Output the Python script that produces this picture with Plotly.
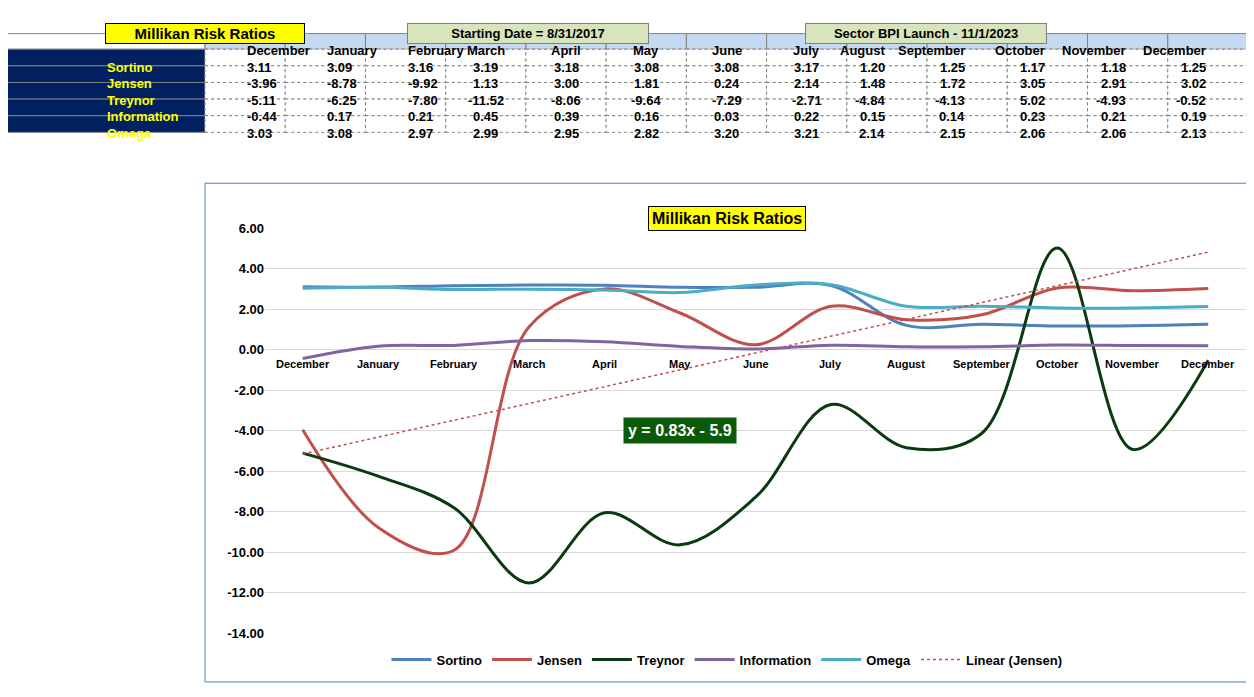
import plotly.graph_objects as go
import numpy as np

months = ["December","January","February","March","April","May","June","July","August","September","October","November","December"]
ratio_names = ["Sortino","Jensen","Treynor","Information","Omega"]
sortino = [3.11,3.09,3.16,3.19,3.18,3.08,3.08,3.17,1.20,1.25,1.17,1.18,1.25]
jensen = [-3.96,-8.78,-9.92,1.13,3.00,1.81,0.24,2.14,1.48,1.72,3.05,2.91,3.02]
treynor = [-5.11,-6.25,-7.80,-11.52,-8.06,-9.64,-7.29,-2.71,-4.84,-4.13,5.02,-4.93,-0.52]
information = [-0.44,0.17,0.21,0.45,0.39,0.16,0.03,0.22,0.15,0.14,0.23,0.21,0.19]
omega = [3.03,3.08,2.97,2.99,2.95,2.82,3.20,3.21,2.14,2.15,2.06,2.06,2.13]
yticks = [6,4,2,0,-2,-4,-6,-8,-10,-12,-14]
trend_label = "y = 0.83x - 5.9"

series = [sortino, jensen, treynor, information, omega]
colors = ["#4f81bd","#c0504d","#0a3a10","#8064a2","#4bacc6"]

W, H = 1254, 697
FW, FH = W - 16, H - 16
def px(x): return (x - 8) / FW
def py(y): return 1 - (y - 8) / FH

fig = go.Figure()

# ---- table drawn with shapes/annotations ----
col_edges = [5, 205] + [205 + (1248 - 205) * (i + 1) / 13 for i in range(13)]
row_edges = [27, 43, 60, 77, 94, 111, 128]
for r in range(6):
    for c in range(14):
        x0, x1 = col_edges[c], col_edges[c + 1]
        y0, y1 = row_edges[r], row_edges[r + 1]
        if r == 0:
            fill = "white" if c == 0 else "#c5d9f1"
            text = "" if c == 0 else f"<b>{months[c-1]}</b>"
            fc = "black"
        elif c == 0:
            fill, text, fc = "#002060", f"<b>{ratio_names[r-1]}</b>", "#ffff00"
        else:
            fill, text, fc = "white", f"<b>{series[r-1][c-1]:.2f}</b>", "black"
        fig.add_shape(type="rect", xref="paper", yref="paper", x0=px(x0), x1=px(x1),
                      y0=py(y1), y1=py(y0), fillcolor=fill,
                      line=dict(color="#808080", width=1, dash="solid" if (r == 0 or c == 0) else "dot"))
        if text:
            fig.add_annotation(xref="paper", yref="paper", x=px((x0 + x1) / 2), y=py((y0 + y1) / 2),
                               text=text, showarrow=False, font=dict(size=13, color=fc))

x = list(range(len(months)))
for name, s, c in zip(ratio_names, series, colors):
    fig.add_trace(go.Scatter(x=x, y=s, name=f"<b>{name}</b>", mode="lines",
                             line=dict(color=c, width=3, shape="spline", smoothing=1.0)))
k, b = np.polyfit(np.arange(1, 14), jensen, 1)
fig.add_trace(go.Scatter(x=x, y=[k*(i+1)+b for i in x], name="<b>Linear (Jensen)</b>", mode="lines",
                         line=dict(color="#c0504d", width=1.5, dash="dot")))

fig.update_layout(
    width=FW, height=FH, margin=dict(l=0, r=0, t=0, b=0),
    paper_bgcolor="white", plot_bgcolor="white",
    font=dict(family="Arial", color="black"),
    xaxis=dict(domain=[px(265), px(1246)], range=[-0.5, 12.5], showticklabels=False,
               showgrid=False, zeroline=False, showline=False),
    yaxis=dict(domain=[py(640), py(226)], range=[-14, 6], tickvals=yticks,
               ticktext=[f"<b>{v:.2f}</b>" for v in yticks], tickfont=dict(size=13),
               showgrid=True, gridcolor="#d9d9d9", zeroline=False, showline=False, ticks=""),
    legend=dict(orientation="h", x=px(727), xanchor="center", y=py(667), yanchor="middle",
                font=dict(size=13), itemwidth=40),
    showlegend=True,
)
for i, m in enumerate(months):
    fig.add_annotation(x=i, y=0, text=f"<b>{m}</b>", showarrow=False, yshift=-14,
                       font=dict(size=11))

fig.add_shape(type="rect", xref="paper", yref="paper", x0=px(205), x1=px(1248), y0=py(690), y1=py(180),
              line=dict(color="#4f81bd", width=1), layer="below")
fig.add_annotation(xref="paper", yref="paper", x=px(727), y=py(203), text="<b>Millikan Risk Ratios</b>",
                   showarrow=False, bgcolor="#ffff00", bordercolor="black", borderwidth=1,
                   font=dict(size=16), borderpad=3)
fig.add_annotation(x=5, y=-4, text=f"<b>{trend_label}</b>", showarrow=False,
                   bgcolor="#0a5a0a", font=dict(size=16, color="white"), borderpad=4)
fig.add_annotation(xref="paper", yref="paper", x=px(105), y=py(16), text="<b>Millikan Risk Ratios</b>",
                   showarrow=False, bgcolor="#ffff00", bordercolor="black", borderwidth=1,
                   width=196, height=17, font=dict(size=15))
fig.add_annotation(xref="paper", yref="paper", x=px(407), y=py(16), text="<b>Starting Date = 8/31/2017</b>",
                   showarrow=False, bgcolor="#d8e4bc", bordercolor="#7f7f7f", borderwidth=1,
                   width=238, height=17, font=dict(size=13))
fig.add_annotation(xref="paper", yref="paper", x=px(1047), y=py(16), text="<b>Sector BPI Launch - 11/1/2023</b>",
                   showarrow=False, bgcolor="#d8e4bc", bordercolor="#7f7f7f", borderwidth=1,
                   width=238, height=17, font=dict(size=13))

fig.write_html("out.html")
